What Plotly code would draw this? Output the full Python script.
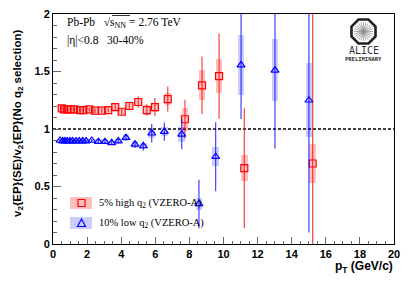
import math
import plotly.graph_objects as go

# ---------------- data ----------------
red_pt = [0.51, 0.65, 0.84, 1.04, 1.23, 1.58, 1.78, 2.13, 2.46, 2.86, 3.24, 3.65, 4.03, 4.48,
          5.0, 5.5, 5.98, 6.73, 7.74, 8.74, 9.74, 11.22, 15.23]
red_val = [1.18, 1.17, 1.17, 1.17, 1.17, 1.165, 1.165, 1.17, 1.16, 1.16, 1.165, 1.19, 1.15, 1.20,
           1.235, 1.165, 1.19, 1.26, 1.085, 1.38, 1.46, 0.66, 0.70]
red_stat = [0.015, 0.015, 0.015, 0.015, 0.015, 0.015, 0.015, 0.015, 0.02, 0.02, 0.02, 0.025, 0.025, 0.03,
            0.05, 0.05, 0.08, 0.11, 0.17, 0.25, 0.37, 0.52, 1.5]
red_sys = [0.025, 0.025, 0.025, 0.025, 0.025, 0.025, 0.025, 0.025, 0.025, 0.025, 0.025, 0.03, 0.03, 0.03,
           0.035, 0.04, 0.04, 0.05, 0.1, 0.13, 0.15, 0.11, 0.17]

blue_pt = [0.41, 0.57, 0.70, 0.84, 1.0, 1.15, 1.35, 1.54, 1.74, 1.94, 2.27, 2.66, 3.05, 3.44, 3.83,
           4.28, 4.81, 5.3, 5.79, 6.53, 7.55, 8.56, 9.54, 11.03, 13.02, 15.01]
blue_val = [0.90, 0.895, 0.895, 0.895, 0.895, 0.895, 0.895, 0.895, 0.895, 0.895, 0.90, 0.89, 0.89, 0.88, 0.895,
            0.925, 0.867, 0.852, 0.963, 0.977, 0.954, 0.348, 0.759, 1.556, 1.51, 1.25]
blue_stat = [0.01, 0.01, 0.01, 0.01, 0.01, 0.01, 0.01, 0.01, 0.01, 0.01, 0.012, 0.015, 0.015, 0.02, 0.02,
             0.025, 0.03, 0.04, 0.08, 0.08, 0.13, 0.21, 0.30, 0.47, 0.68, 1.15]
blue_sys = [0.015, 0.015, 0.015, 0.015, 0.015, 0.015, 0.015, 0.015, 0.015, 0.015, 0.015, 0.02, 0.02, 0.02, 0.02,
            0.03, 0.03, 0.03, 0.04, 0.04, 0.065, 0.05, 0.085, 0.26, 0.27, 0.32]

x_ticks = [0, 2, 4, 6, 8, 10, 12, 14, 16, 18, 20]
y_ticks = [0, 0.5, 1, 1.5, 2]
y_tick_text = ["0", "0.5", "1", "1.5", "2"]

labels = ["5% high q<sub>2</sub> (VZERO-A)", "10% low q<sub>2</sub> (VZERO-A)"]

RED = "rgb(255,0,0)"
BLUE = "rgb(0,0,255)"
RED_BOX = "rgba(255,0,0,0.25)"
BLUE_BOX = "rgba(0,0,255,0.2)"

# ---------------- geometry ----------------
# the page body has an 8px margin, so the figure is drawn 8px right and down
OFF = 8
W, H = 415 - OFF, 281 - OFF
PX0, PY0, PX1, PY1 = 53, 14, 394, 244          # plot area in screen pixels
L, T = PX0 - OFF, PY0 - OFF
PW, PH = PX1 - PX0, PY1 - PY0
R, B = W - L - PW, H - T - PH


def px2paper(px, py):
    return (px - PX0) / PW, (PY1 - py) / PH


fig = go.Figure()

# systematic boxes
fig.add_trace(go.Bar(x=red_pt, y=[2 * s for s in red_sys], base=[v - s for v, s in zip(red_val, red_sys)],
                     width=0.38, marker=dict(color=RED_BOX, line=dict(width=0)), showlegend=False,
                     hoverinfo="skip"))
fig.add_trace(go.Bar(x=blue_pt, y=[2 * s for s in blue_sys], base=[v - s for v, s in zip(blue_val, blue_sys)],
                     width=0.38, marker=dict(color=BLUE_BOX, line=dict(width=0)), showlegend=False,
                     hoverinfo="skip"))

# points with statistical errors
fig.add_trace(go.Scatter(x=red_pt, y=red_val, mode="markers",
                         marker=dict(symbol="square-open", size=7, color=RED, line=dict(width=1.2, color=RED)),
                         error_y=dict(type="data", array=red_stat, thickness=1.2, width=0, color="rgba(255,0,0,0.75)"),
                         showlegend=False))
fig.add_trace(go.Scatter(x=blue_pt, y=blue_val, mode="markers",
                         marker=dict(symbol="triangle-up-open", size=7, color=BLUE, line=dict(width=1.2, color=BLUE)),
                         error_y=dict(type="data", array=blue_stat, thickness=1.2, width=0, color="rgba(0,0,255,0.75)"),
                         showlegend=False))

shapes = []
# dashed reference line at 1
shapes.append(dict(type="line", xref="x", yref="y", x0=0, x1=20, y0=1, y1=1,
                   line=dict(color="black", width=1.3, dash="3px,2px"), layer="below"))

# legend glyphs
annotations = []
for i, (lab, boxc, col) in enumerate([(labels[0], RED_BOX, RED), (labels[1], BLUE_BOX, BLUE)]):
    cy = 203 + 20 * i
    x0, y0 = px2paper(70, cy + 6)
    x1, y1 = px2paper(92, cy - 6)
    shapes.append(dict(type="rect", xref="paper", yref="paper", x0=x0, x1=x1, y0=y0, y1=y1,
                       fillcolor=boxc, line=dict(width=0)))
    if i == 0:
        a0, b0 = px2paper(78, cy + 3.5)
        a1, b1 = px2paper(85, cy - 3.5)
        shapes.append(dict(type="rect", xref="paper", yref="paper", x0=a0, x1=a1, y0=b0, y1=b1,
                           line=dict(color=col, width=1.2)))
    else:
        p1 = px2paper(77.5, cy + 3.5)
        p2 = px2paper(85.5, cy + 3.5)
        p3 = px2paper(81.5, cy - 4)
        path = "M %f %f L %f %f L %f %f Z" % (p1[0], p1[1], p2[0], p2[1], p3[0], p3[1])
        shapes.append(dict(type="path", xref="paper", yref="paper", path=path,
                           line=dict(color=col, width=1.2)))
    tx, ty = px2paper(97, cy)
    annotations.append(dict(text=lab, xref="paper", yref="paper", x=tx, y=ty, xanchor="left",
                            yanchor="middle", showarrow=False,
                            font=dict(family="Liberation Serif", size=10.5, color="black")))

# header texts
hx, hy = px2paper(65, 23)
annotations.append(dict(text="Pb-Pb   √s<sub>NN</sub> = 2.76 TeV", xref="paper", yref="paper", x=hx, y=hy,
                        xanchor="left", yanchor="middle", showarrow=False,
                        font=dict(family="Liberation Serif", size=11.5, color="black")))
# overline above s_NN
o0 = px2paper(112, 15.5)
o1 = px2paper(130, 15.5)
shapes.append(dict(type="line", xref="paper", yref="paper", x0=o0[0], x1=o1[0], y0=o0[1], y1=o1[1],
                   line=dict(color="black", width=0.8)))
hx2, hy2 = px2paper(65, 40)
annotations.append(dict(text="|η|<0.8   30-40%", xref="paper", yref="paper", x=hx2, y=hy2,
                        xanchor="left", yanchor="middle", showarrow=False,
                        font=dict(family="Liberation Serif", size=11.5, color="black")))

# ALICE logo
cxp, cyp, rad = 363.5, 31.5, 13
oct_pts = []
for k in range(8):
    ang = math.radians(22.5 + 45 * k)
    oct_pts.append(px2paper(cxp + rad * math.cos(ang), cyp + rad * math.sin(ang)))
path = "M " + " L ".join("%f %f" % p for p in oct_pts) + " Z"
shapes.append(dict(type="path", xref="paper", yref="paper", path=path,
                   line=dict(color="#222", width=2.6), fillcolor="white"))
for k in range(24):
    ang = math.radians(15 * k)
    a = px2paper(cxp, cyp)
    b = px2paper(cxp + 9.5 * math.cos(ang), cyp + 9.5 * math.sin(ang))
    shapes.append(dict(type="line", xref="paper", yref="paper", x0=a[0], y0=a[1], x1=b[0], y1=b[1],
                       line=dict(color="#888", width=0.7)))
ax_, ay_ = px2paper(cxp, 51)
annotations.append(dict(text="ALICE", xref="paper", yref="paper", x=ax_, y=ay_, xanchor="center",
                        yanchor="middle", showarrow=False,
                        font=dict(family="DejaVu Sans Mono", size=10, color="#333")))
ax2, ay2 = px2paper(cxp, 59.5)
annotations.append(dict(text="PRELIMINARY", xref="paper", yref="paper", x=ax2, y=ay2, xanchor="center",
                        yanchor="middle", showarrow=False,
                        font=dict(family="DejaVu Sans Mono", size=5.5, color="#333", weight="bold")))

# axis titles
xt, yt = px2paper(395, 267)
annotations.append(dict(text="p<sub>T</sub> (GeV/c)", xref="paper", yref="paper", x=xt, y=yt,
                        xanchor="right", yanchor="middle", showarrow=False,
                        font=dict(family="Liberation Sans", size=12, color="black", weight="bold")))
yx, yy = px2paper(18, 124)
annotations.append(dict(text="v<sub>2</sub>{EP}(SE)/v<sub>2</sub>{EP}(No q<sub>2</sub> selection)",
                        xref="paper", yref="paper", x=yx, y=yy, xanchor="center", yanchor="middle",
                        textangle=-90, showarrow=False,
                        font=dict(family="Liberation Sans", size=11.5, color="black", weight="bold")))

fig.update_layout(
    width=W, height=H,
    margin=dict(l=L, r=R, t=T, b=B, pad=0, autoexpand=False),
    paper_bgcolor="white", plot_bgcolor="white",
    barmode="overlay", bargap=0,
    showlegend=False,
    shapes=shapes, annotations=annotations,
    xaxis=dict(range=[0, 20], tickvals=x_ticks, ticktext=[str(v) for v in x_ticks],
               ticks="inside", ticklen=7, tickwidth=1, tickcolor="#666", ticklabeloverflow="allow",
               minor=dict(dtick=0.5, ticks="inside", ticklen=3.5, tickcolor="#666", showgrid=False),
               showline=True, linecolor="black", linewidth=1, mirror=True, showgrid=False, zeroline=False,
               tickfont=dict(family="Liberation Sans", size=11, color="black", weight="bold")),
    yaxis=dict(range=[0, 2], tickvals=y_ticks, ticktext=y_tick_text,
               ticks="inside", ticklen=8, tickwidth=1, tickcolor="#666", ticklabeloverflow="allow",
               minor=dict(dtick=0.1, ticks="inside", ticklen=4, tickcolor="#666", showgrid=False),
               showline=True, linecolor="black", linewidth=1, mirror=True, showgrid=False, zeroline=False,
               tickfont=dict(family="Liberation Sans", size=11, color="black", weight="bold")),
)

fig.write_html("out.html")
